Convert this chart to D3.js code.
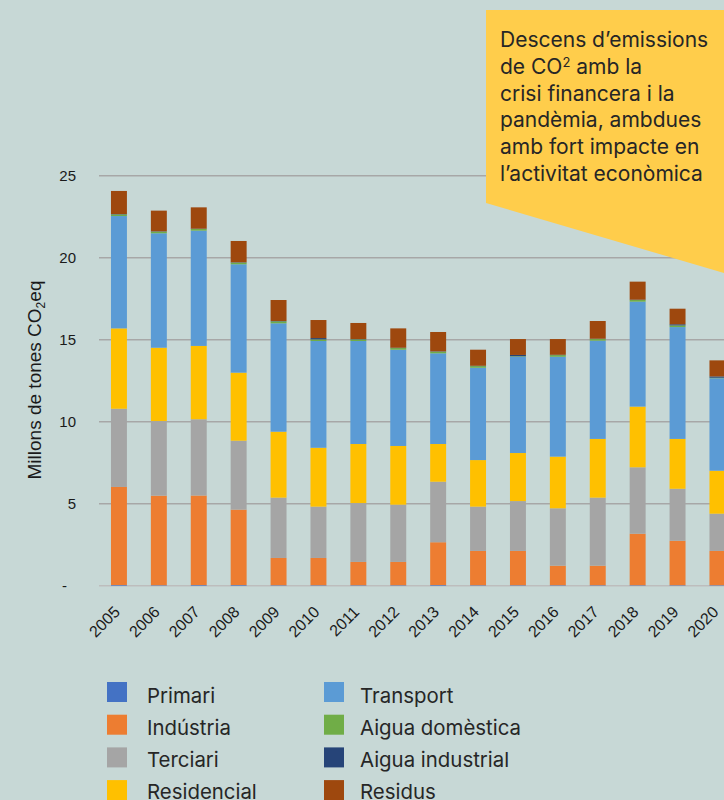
<!DOCTYPE html>
<html>
<head>
<meta charset="utf-8">
<script src="https://cdn.jsdelivr.net/npm/d3@7"></script>
<style>
  html, body { margin: 0; padding: 0; background: #c7d8d6; }
  svg { display: block; }
</style>
</head>
<body>
<svg id="chart" width="724" height="800"></svg>
<script>
// Emissions by sector, million tonnes CO2eq
const years = ["2005","2006","2007","2008","2009","2010","2011","2012","2013","2014","2015","2016","2017","2018","2019","2020"];

const primari         = [0.04,0.03,0.04,0.04,0.03,0.03,0.03,0.03,0.04,0.03,0.03,0.03,0.03,0.03,0.03,0.03];
const industria       = [5.98,5.46,5.46,4.60,1.66,1.66,1.42,1.42,2.61,2.09,2.09,1.19,1.19,3.14,2.71,2.09];
const terciari        = [4.77,4.55,4.65,4.20,3.68,3.13,3.59,3.49,3.69,2.70,3.04,3.50,4.15,4.05,3.17,2.27];
const residencial     = [4.90,4.47,4.47,4.15,4.02,3.59,3.60,3.58,2.30,2.84,2.93,3.15,3.58,3.70,3.04,2.62];
const transport       = [6.85,6.98,7.03,6.61,6.61,6.51,6.28,5.87,5.53,5.63,5.87,6.09,5.99,6.40,6.82,5.64];
const aiguaDomestica  = [0.10,0.10,0.10,0.10,0.12,0.10,0.10,0.10,0.10,0.10,0.03,0.10,0.10,0.10,0.10,0.03];
const aiguaIndustrial = [0.02,0.02,0.02,0.02,0.02,0.08,0.02,0.02,0.02,0.02,0.08,0.02,0.02,0.02,0.07,0.08];
const residus         = [1.41,1.26,1.30,1.30,1.28,1.10,0.98,1.18,1.18,0.98,0.97,0.96,1.08,1.10,0.95,0.98];

const seriesNames  = ["Primari","Indústria","Terciari","Residencial","Transport","Aigua domèstica","Aigua industrial","Residus"];
const seriesValues = [primari, industria, terciari, residencial, transport, aiguaDomestica, aiguaIndustrial, residus];
const seriesColors = ["#4472c4","#ed7d31","#a5a5a5","#ffc000","#5b9bd5","#70ad47","#264478","#9e480e"];

const yTicks = [0, 5, 10, 15, 20, 25];

const calloutLines = [
  ["Descens d’emissions"],
  ["de CO", "2", " amb la"],
  ["crisi financera i la"],
  ["pandèmia, ambdues"],
  ["amb fort impacte en"],
  ["l’activitat econòmica"]
];

// ---- build stacked table ----
const table = years.map((yr, i) => {
  const row = { year: yr };
  seriesNames.forEach((n, k) => { row[n] = seriesValues[k][i]; });
  return row;
});
const stacked = d3.stack().keys(seriesNames)(table);

const svg = d3.select("#chart");

// plot geometry
const plotLeft = 99, step = 39.9;
const x = d3.scaleBand()
  .domain(years)
  .range([plotLeft, plotLeft + step * years.length])
  .paddingInner(0.6)
  .paddingOuter(0.3);

const y = d3.scaleLinear().domain([0, 25]).range([585.7, 175.7]);

// gridlines
const grid = svg.append("g");
grid.selectAll("line")
  .data(yTicks)
  .join("line")
  .attr("x1", plotLeft)
  .attr("x2", 724)
  .attr("y1", d => y(d))
  .attr("y2", d => y(d))
  .attr("stroke", d => d === 0 ? "#bdbdbd" : "#a7a7a7")
  .attr("stroke-width", 1.6);

// y tick labels
const yAxis = d3.axisLeft(y)
  .tickValues(yTicks)
  .tickSize(0)
  .tickPadding(0)
  .tickFormat(d => d === 0 ? "-" : d3.format("d")(d));

const yG = svg.append("g")
  .attr("transform", "translate(76,0)")
  .call(yAxis);
yG.select(".domain").remove();
yG.selectAll("text")
  .attr("font-family", "Liberation Sans, Arial, sans-serif")
  .attr("font-size", 15)
  .attr("fill", "#1a1a1a")
  .attr("dx", d => d === 0 ? -9 : 0);

// bars
svg.append("g")
  .selectAll("g")
  .data(stacked)
  .join("g")
  .attr("fill", (d, i) => seriesColors[i])
  .selectAll("rect")
  .data(d => d)
  .join("rect")
  .attr("x", d => x(d.data.year))
  .attr("width", x.bandwidth())
  .attr("y", d => y(d[1]))
  .attr("height", d => Math.max(0, y(d[0]) - y(d[1])));

// x labels, rotated
const xAxis = d3.axisBottom(x).tickSize(0).tickPadding(0);
const xG = svg.append("g")
  .attr("transform", "translate(0,613)")
  .call(xAxis);
xG.select(".domain").remove();
xG.selectAll("text")
  .attr("font-family", "Liberation Sans, Arial, sans-serif")
  .attr("font-size", 16)
  .attr("fill", "#1a1a1a")
  .attr("text-anchor", "end")
  .attr("y", 0)
  .attr("dy", 0)
  .attr("transform", "translate(2,0) rotate(-45)");

// y title
const yTitle = svg.append("text")
  .attr("transform", "translate(41,380) rotate(-90)")
  .attr("text-anchor", "middle")
  .attr("font-family", "Liberation Sans, Arial, sans-serif")
  .attr("font-size", 19)
  .attr("fill", "#1a1a1a");
yTitle.append("tspan").text("Millons de tones CO");
yTitle.append("tspan").attr("font-size", 12).attr("dy", 4).text("2");
yTitle.append("tspan").attr("dy", -4).text("eq");

// callout
svg.append("polygon")
  .attr("points", [[486,10],[724,10],[724,273],[486,203]].map(p => p.join(",")).join(" "))
  .attr("fill", "#ffcd4b");

const callout = svg.append("text")
  .attr("font-family", "Inter, sans-serif")
  .attr("font-size", 21)
  .attr("fill", "#262626");
calloutLines.forEach((parts, i) => {
  const line = callout.append("tspan").attr("x", 500).attr("y", 47.3 + 26.7 * i);
  parts.forEach((p, j) => {
    if (parts.length === 3 && j === 1) {
      line.append("tspan").attr("font-size", 13).attr("dy", -7).text(p);
    } else if (parts.length === 3 && j === 2) {
      line.append("tspan").attr("dy", 7).text(p);
    } else {
      line.append("tspan").text(p);
    }
  });
});

// legend
const legendItems = seriesNames.map((n, i) => ({ name: n, color: seriesColors[i], col: Math.floor(i / 4), row: i % 4 }));
const legend = svg.append("g")
  .selectAll("g")
  .data(legendItems)
  .join("g")
  .attr("transform", d => `translate(${d.col === 0 ? 107 : 324},${682 + d.row * 32.7})`);
legend.append("rect")
  .attr("width", 20)
  .attr("height", 20)
  .attr("fill", d => d.color);
legend.append("text")
  .attr("x", d => d.col === 0 ? 40 : 36)
  .attr("y", d => 20.5 - d.row * 0.6)
  .attr("font-family", "Inter, sans-serif")
  .attr("font-size", 20.4)
  .attr("fill", "#262626")
  .text(d => d.name);
</script>
</body>
</html>
